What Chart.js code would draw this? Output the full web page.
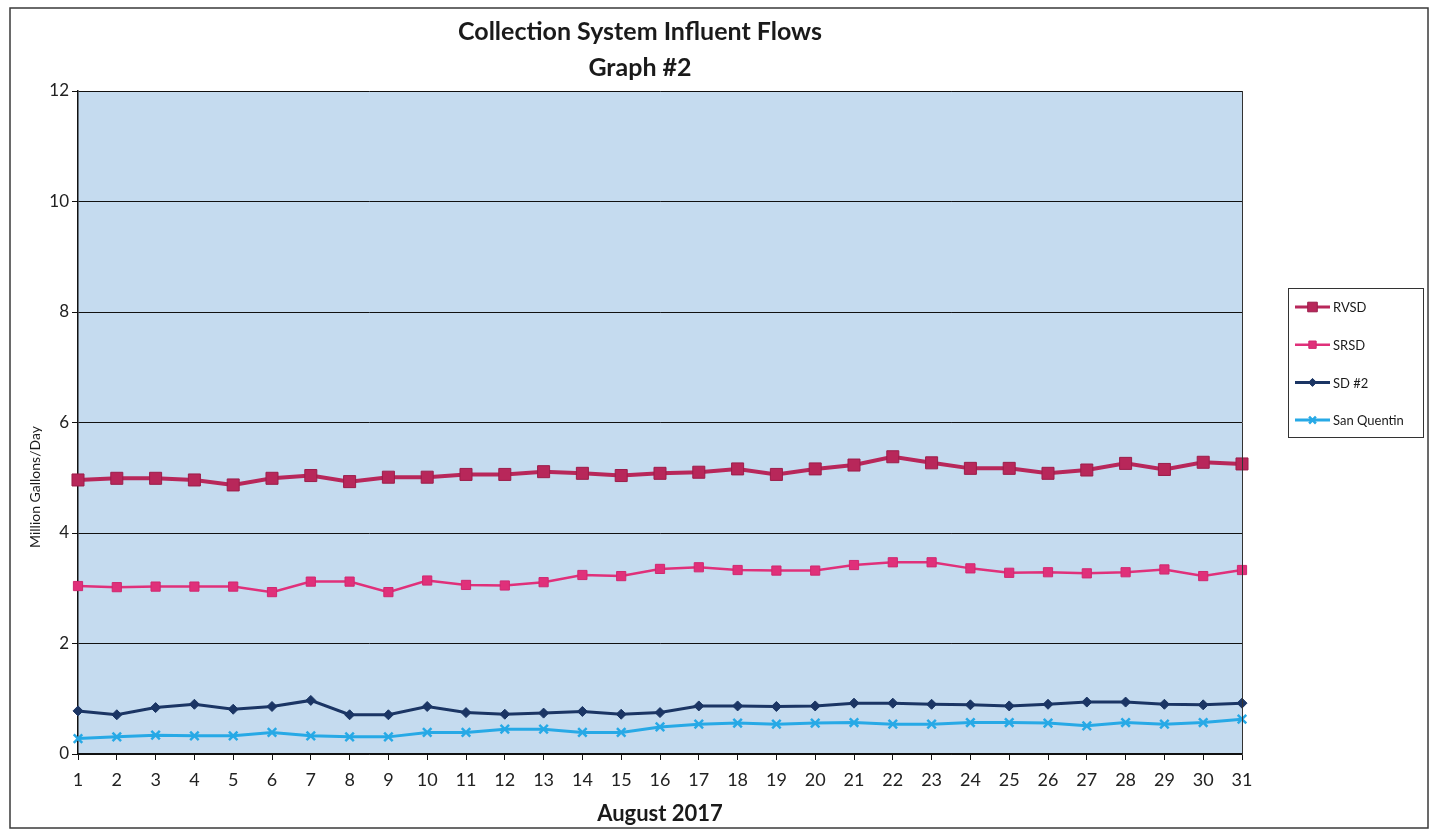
<!DOCTYPE html>
<html>
<head>
<meta charset="utf-8">
<title>Collection System Influent Flows</title>
<script src="https://cdn.jsdelivr.net/npm/chart.js@4/dist/chart.umd.min.js"></script>
<style>
  html, body { margin: 0; padding: 0; background: #fff; }
  #wrap { width: 1434px; height: 830px; }
</style>
</head>
<body>
<div id="wrap"><canvas id="flowChart" width="1434" height="830"></canvas></div>
<script>
// days of August 2017
const days = Array.from({ length: 31 }, (_, i) => String(i + 1));

// values (million gallons / day)
const rvsd = [4.96, 4.99, 4.99, 4.96, 4.87, 4.99, 5.04, 4.93, 5.01, 5.01, 5.06,
  5.06, 5.11, 5.08, 5.04, 5.08, 5.10, 5.16, 5.06, 5.16, 5.23,
  5.38, 5.27, 5.17, 5.17, 5.08, 5.14, 5.26, 5.15, 5.28, 5.25];
const srsd = [3.04, 3.02, 3.03, 3.03, 3.03, 2.93, 3.12, 3.12, 2.93, 3.14, 3.06,
  3.05, 3.11, 3.24, 3.22, 3.35, 3.38, 3.33, 3.32, 3.32, 3.42,
  3.47, 3.47, 3.36, 3.28, 3.29, 3.27, 3.29, 3.34, 3.22, 3.33];
const sd2 = [0.78, 0.71, 0.84, 0.90, 0.81, 0.86, 0.97, 0.71, 0.71, 0.86, 0.75,
  0.72, 0.74, 0.77, 0.72, 0.75, 0.87, 0.87, 0.86, 0.87, 0.92,
  0.92, 0.90, 0.89, 0.87, 0.90, 0.94, 0.94, 0.90, 0.89, 0.92];
const sanQuentin = [0.28, 0.31, 0.34, 0.33, 0.33, 0.39, 0.33, 0.31, 0.31, 0.39, 0.39,
  0.45, 0.45, 0.39, 0.39, 0.49, 0.54, 0.56, 0.54, 0.56, 0.57,
  0.54, 0.54, 0.57, 0.57, 0.56, 0.51, 0.57, 0.54, 0.57, 0.63];

const titleLines = ["Collection System Influent Flows", "Graph #2"];
const yTitle = "Million Gallons/Day";
const FONT = "Lato, 'Open Sans', sans-serif";

// page frame, plot background and border
const backdrop = {
  id: "backdrop",
  beforeDraw(chart) {
    const ctx = chart.ctx;
    const a = chart.chartArea;
    ctx.save();
    ctx.strokeStyle = "#3a3a3a";
    ctx.lineWidth = 1.5;
    ctx.strokeRect(10, 8, 1418, 820);
    ctx.fillStyle = "#c5dbef";
    ctx.fillRect(a.left, a.top, a.right - a.left, a.bottom - a.top);
    ctx.restore();
  },
  afterDatasetsDraw(chart) {
    const ctx = chart.ctx;
    const a = chart.chartArea;
    ctx.save();
    ctx.strokeStyle = "#333";
    ctx.lineWidth = 1;
    ctx.beginPath();
    ctx.moveTo(a.right + 0.5, a.top);
    ctx.lineTo(a.right + 0.5, a.bottom);
    ctx.stroke();
    ctx.restore();
  }
};

// two line heading + y axis caption (sits a bit below centre in the original)
const heading = {
  id: "heading",
  afterDraw(chart) {
    const ctx = chart.ctx;
    ctx.save();
    ctx.fillStyle = "#1a1a1a";
    ctx.font = "bold 25px " + FONT;
    ctx.textAlign = "center";
    ctx.textBaseline = "middle";
    ctx.fillText(titleLines[0], 640, 32);
    ctx.fillText(titleLines[1], 640, 68);

    ctx.translate(35, 487);
    ctx.rotate(-Math.PI / 2);
    ctx.font = "14px " + FONT;
    ctx.fillText(yTitle, 0, 0);
    ctx.restore();
  }
};

// boxed legend on the right, line + marker like the original
const boxLegend = {
  id: "boxLegend",
  afterDraw(chart) {
    const ctx = chart.ctx;
    ctx.save();
    ctx.strokeStyle = "#333";
    ctx.lineWidth = 1;
    ctx.strokeRect(1288.5, 288.5, 135, 149);
    ctx.font = "13px " + FONT;
    ctx.textBaseline = "middle";
    ctx.textAlign = "left";
    chart.data.datasets.forEach((ds, i) => {
      const y = 307 + i * 37.7;
      ctx.strokeStyle = ds.borderColor;
      ctx.lineWidth = Math.min(ds.borderWidth, 3);
      ctx.beginPath();
      ctx.moveTo(1295, y);
      ctx.lineTo(1330, y);
      ctx.stroke();
      ctx.fillStyle = ds.pointBackgroundColor;
      ctx.strokeStyle = ds.pointBorderColor;
      ctx.lineWidth = ds.pointBorderWidth;
      Chart.helpers.drawPoint(ctx, {
        pointStyle: ds.pointStyle,
        radius: ds.pointRadius * 0.8,
        borderWidth: ds.pointBorderWidth
      }, 1312.5, y);
      ctx.fillStyle = "#1a1a1a";
      ctx.fillText(ds.label, 1333, y + 1);
    });
    ctx.restore();
  }
};

const datasets = [
  {
    label: "RVSD",
    data: rvsd,
    borderColor: "#b8275a",
    backgroundColor: "#b8275a",
    pointBackgroundColor: "#b8275a",
    pointBorderColor: "#9c1d4a",
    borderWidth: 4,
    pointStyle: "rect",
    pointRadius: 8.5
  },
  {
    label: "SRSD",
    data: srsd,
    borderColor: "#e0307a",
    backgroundColor: "#e0307a",
    pointBackgroundColor: "#e0307a",
    pointBorderColor: "#d02870",
    borderWidth: 2.5,
    pointStyle: "rect",
    pointRadius: 6.5
  },
  {
    label: "SD #2",
    data: sd2,
    borderColor: "#1b3564",
    backgroundColor: "#1b3564",
    pointBackgroundColor: "#1b3564",
    pointBorderColor: "#1b3564",
    borderWidth: 3,
    pointStyle: "rectRot",
    pointRadius: 5
  },
  {
    label: "San Quentin",
    data: sanQuentin,
    borderColor: "#27a9e6",
    backgroundColor: "#27a9e6",
    pointBackgroundColor: "#27a9e6",
    pointBorderColor: "#27a9e6",
    borderWidth: 3,
    pointStyle: "crossRot",
    pointRadius: 6
  }
];

datasets.forEach(ds => {
  ds.tension = 0;
  ds.pointBorderWidth = ds.pointStyle === "crossRot" ? 2.5 : 1;
  ds.pointHoverRadius = ds.pointRadius;
});

new Chart(document.getElementById("flowChart"), {
  type: "line",
  data: { labels: days, datasets: datasets },
  plugins: [backdrop, heading, boxLegend],
  options: {
    responsive: false,
    animation: false,
    layout: { padding: { left: 0, top: 91, right: 192, bottom: 0 } },
    plugins: {
      legend: { display: false },
      title: { display: false },
      tooltip: { enabled: false }
    },
    scales: {
      x: {
        offset: false,
        afterFit: s => { s.height = 76; },
        grid: { drawOnChartArea: false, drawTicks: true, tickLength: 6, color: "#111" },
        border: { color: "#111", width: 1.5 },
        ticks: { color: "#222", font: { family: FONT, size: 18 }, padding: 9, maxRotation: 0, autoSkip: false },
        title: {
          display: true,
          text: "August 2017",
          color: "#1a1a1a",
          font: { family: FONT, size: 22, weight: "bold" },
          padding: { top: 0, bottom: 3 }
        }
      },
      y: {
        min: 0,
        max: 12,
        afterFit: s => { s.width = 78; },
        grid: { color: "#111", lineWidth: 1, tickLength: 6 },
        border: { color: "#111", width: 1.5 },
        ticks: { stepSize: 2, color: "#222", font: { family: FONT, size: 17 }, padding: 3 }
      }
    }
  }
});
</script>
</body>
</html>
